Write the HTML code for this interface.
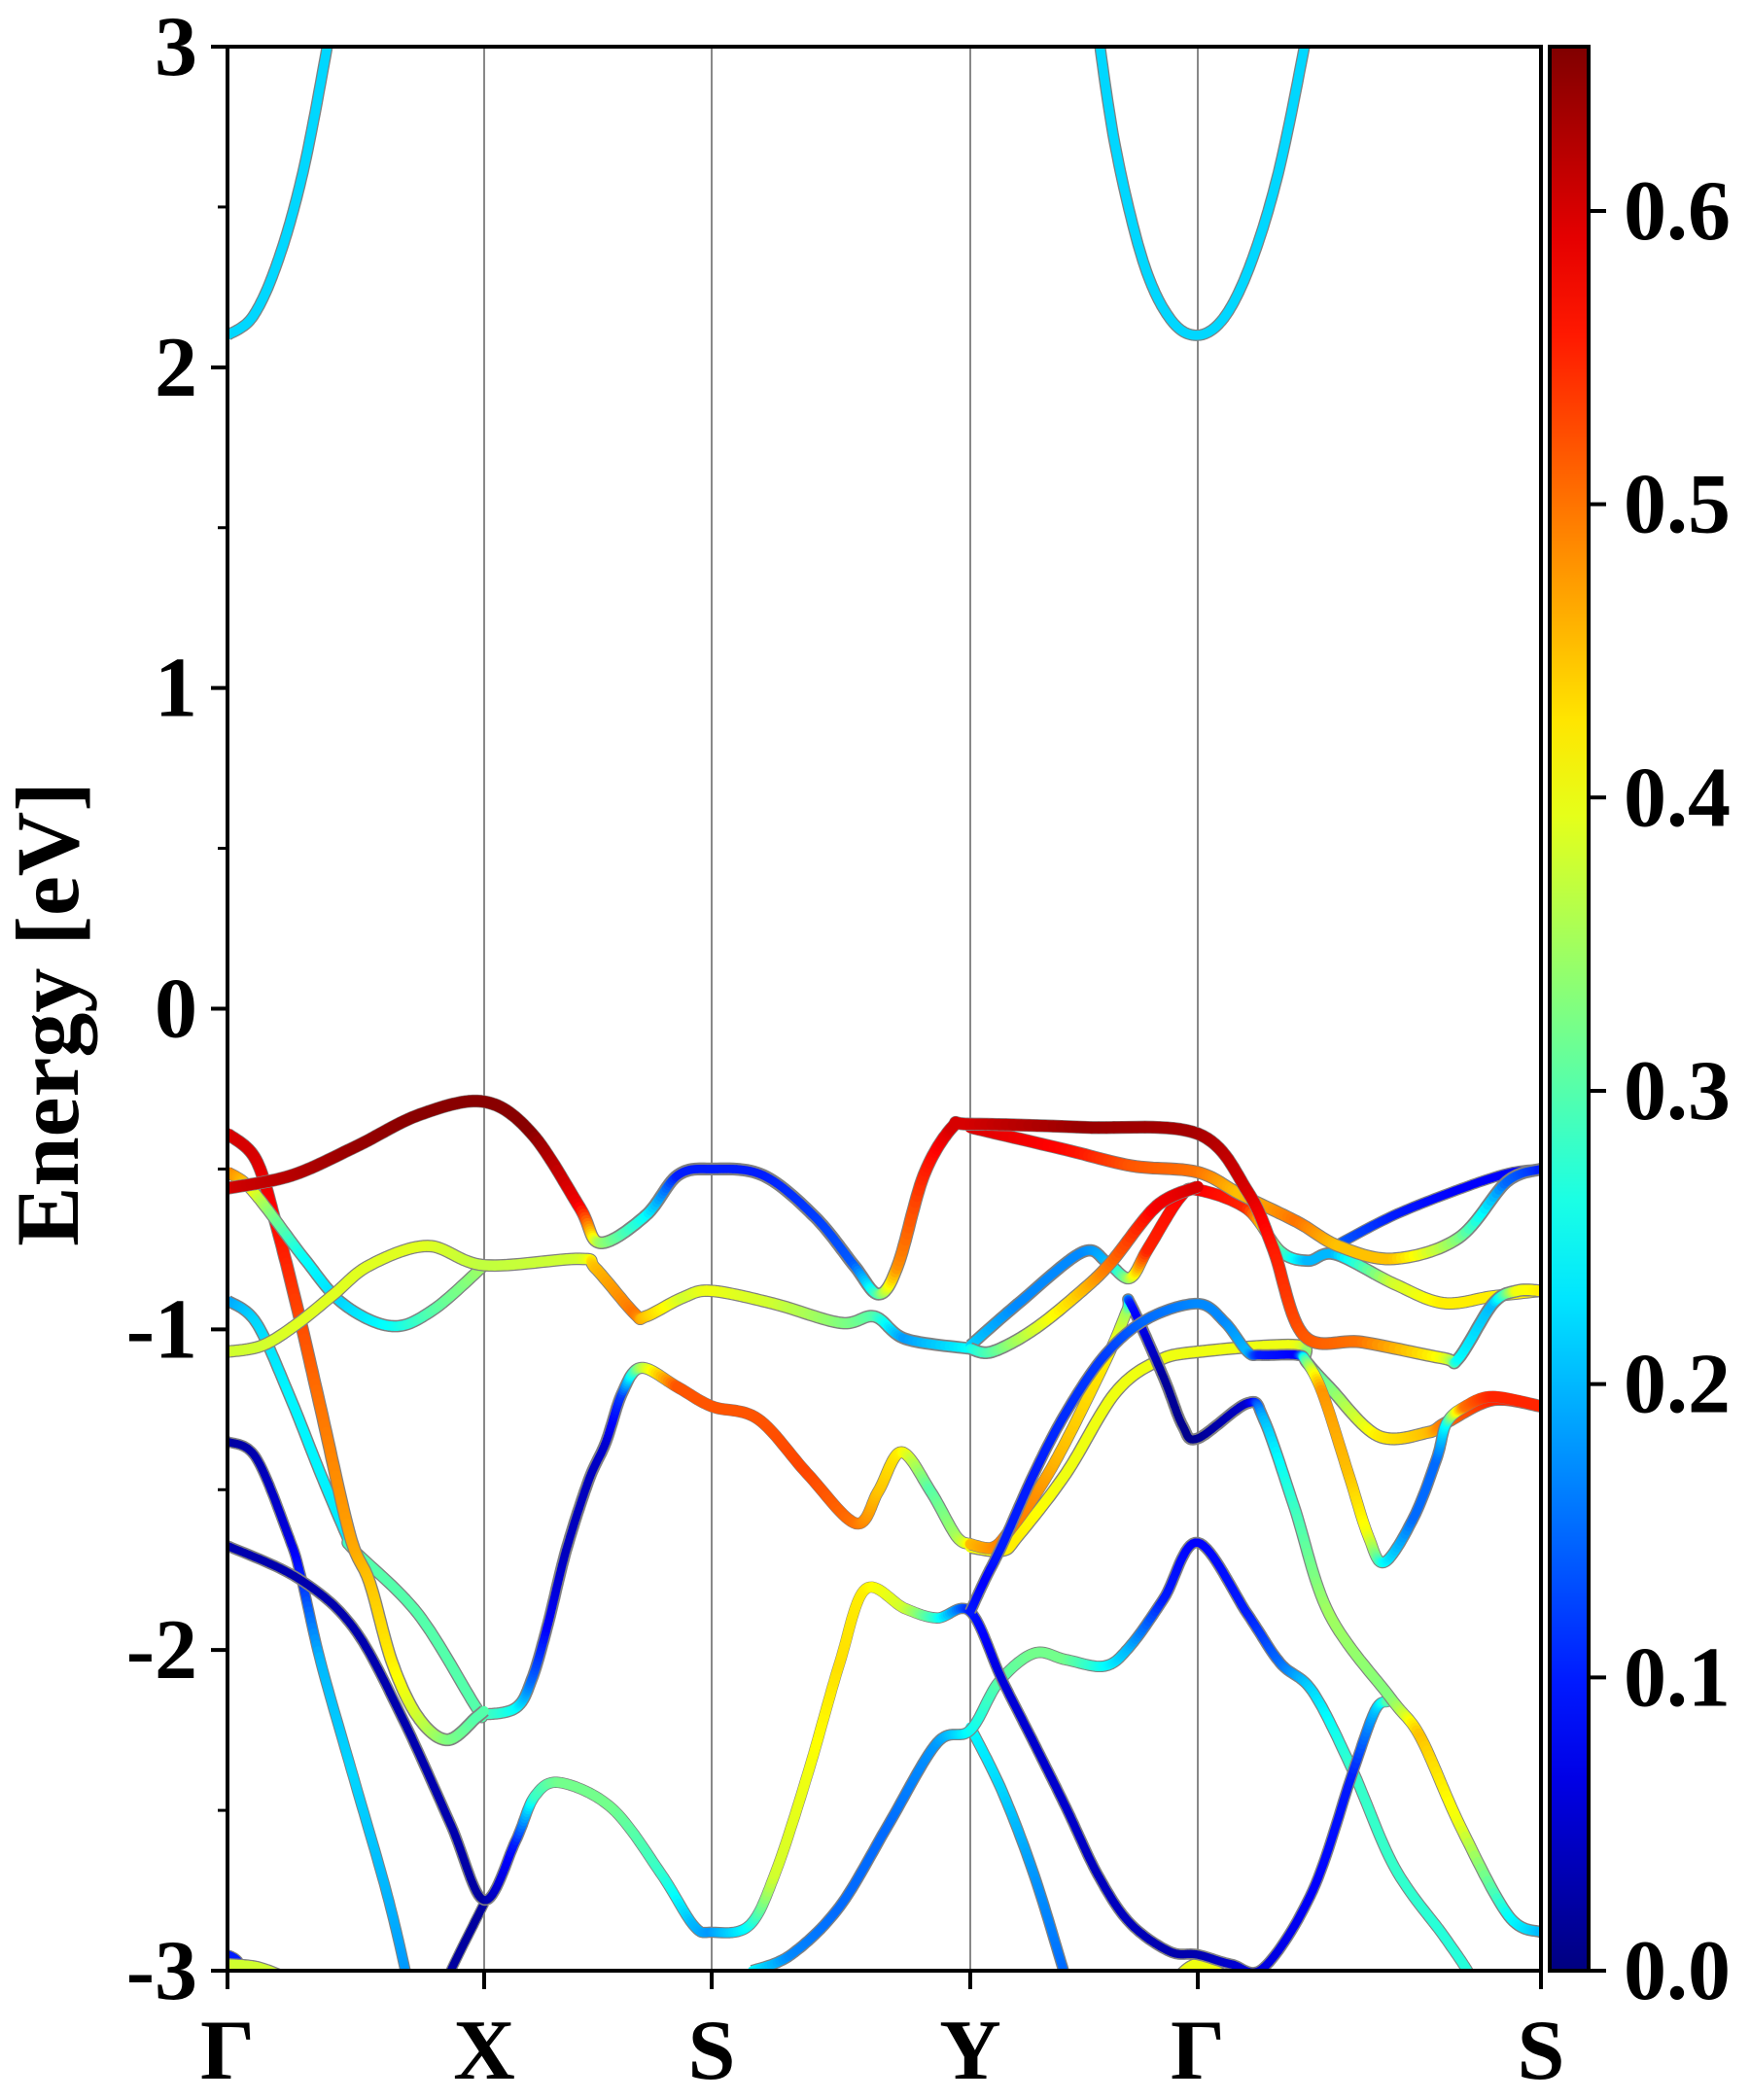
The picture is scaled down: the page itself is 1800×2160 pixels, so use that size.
<!DOCTYPE html>
<html><head><meta charset="utf-8">
<style>
html,body{margin:0;padding:0;background:#fff;}
svg{display:block;}
text{font-family:"Liberation Serif","DejaVu Serif",serif;font-weight:bold;fill:#000;}
</style></head>
<body>
<svg id="chart" width="1800" height="2160" viewBox="0 0 1800 2160" xmlns="http://www.w3.org/2000/svg">
<defs>
<clipPath id="plotclip"><rect x="234" y="48" width="1351" height="1979"/></clipPath>
<linearGradient id="jetgrad" x1="0" y1="1" x2="0" y2="0"></linearGradient>
</defs>
<g id="grid"></g>
<g id="bands" clip-path="url(#plotclip)"></g>
<rect x="234" y="48" width="1351" height="1979" fill="none" stroke="#000" stroke-width="4"/>
<g id="axes"></g>
<text x="0" y="0" font-size="92" text-anchor="middle" transform="translate(80,1043) rotate(-90)">Energy [eV]</text>
<g id="cbar"></g>
</svg>
<script>
const kLabels = ["Γ","X","S","Y","Γ","S"];
const yTicks = [-3,-2,-1,0,1,2,3];
const cbTicks = [0.0,0.1,0.2,0.3,0.4,0.5,0.6];
const cbTickLabels = ["0.0","0.1","0.2","0.3","0.4","0.5","0.6"];
const wMax = 0.656;
// bands: [k (segment index + fraction), energy eV, weight]
const bandCond1 = [[0,2.1,.22],[0.1,2.16,.22],[0.2,2.34,.22],[0.3,2.63,.22],[0.4,3.05,.22]];
const bandCond2 = [[3.56,3.05,.22],[3.64,2.68,.22],[3.76,2.33,.22],[3.88,2.15,.22],[4,2.1,.22],[4.08,2.16,.22],[4.16,2.34,.22],[4.24,2.63,.22],[4.32,3.05,.22]];
const bandTop = [[0,-0.56,.6],[0.25,-0.52,.62],[0.5,-0.43,.64],[0.75,-0.33,.65],[1,-0.29,.65],[1.21,-0.39,.65],[1.42,-0.62,.58],[1.51,-0.73,.35],[1.71,-0.645,.25],[1.85,-0.52,.1],[2,-0.50,.1],[2.2,-0.52,.1],[2.4,-0.65,.12],[2.55,-0.8,.14],[2.645,-0.89,.3],[2.72,-0.8,.48],[2.82,-0.52,.55],[2.93,-0.37,.6],[3,-0.36,.6],[3.5,-0.37,.64],[4,-0.39,.63],[4.145,-0.57,.6],[4.22,-0.75,.56],[4.31,-1.02,.52],[4.48,-1.04,.5],[4.715,-1.09,.4],[4.76,-1.09,.25],[4.86,-0.92,.2],[4.93,-0.88,.4],[5,-0.88,.42]];
const bandC2 = [[3,-0.37,.6],[3.42,-0.44,.57],[3.71,-0.49,.52],[4,-0.51,.5],[4.126,-0.58,.45],[4.29,-0.665,.5],[4.41,-0.74,.45],[4.57,-0.78,.45],[4.76,-0.715,.33],[4.9,-0.54,.15],[5,-0.50,.1]];
const bandC3 = [[3,-1.06,.25],[3.095,-1.07,.3],[3.28,-1.0,.38],[3.49,-0.88,.45],[3.62,-0.79,.5],[3.82,-0.615,.58],[4,-0.555,.6]];
const bandC4 = [[4.40,-0.74,.15],[4.57,-0.645,.1],[4.76,-0.564,.08],[4.905,-0.513,.08],[5,-0.50,.08]];
const bandC5 = [[3,-1.05,.22],[3.21,-0.92,.17],[3.49,-0.76,.17],[3.6,-0.79,.2],[3.70,-0.84,.35],[3.78,-0.75,.55],[3.92,-0.59,.57],[4,-0.565,.58],[4.145,-0.625,.55],[4.24,-0.756,.3],[4.32,-0.786,.2],[4.40,-0.766,.2],[4.57,-0.857,.38],[4.715,-0.918,.42],[4.86,-0.897,.42],[5,-0.88,.42]];
const bandC6 = [[0,-1.07,.38],[0.137,-1.05,.38],[0.276,-0.98,.39],[0.415,-0.89,.39],[0.554,-0.80,.39],[0.78,-0.74,.39],[1,-0.80,.37],[1.42,-0.78,.38],[1.49,-0.81,.45],[1.66,-0.95,.5],[1.71,-0.96,.45],[1.876,-0.90,.38],[2,-0.88,.4],[2.24,-0.92,.38],[2.5,-0.98,.33],[2.63,-0.96,.3],[2.75,-1.03,.18],[3,-1.06,.25]];
const bandC7 = [[0,-0.51,.5],[0.07,-0.545,.45],[0.15,-0.62,.35],[0.3,-0.78,.25],[0.45,-0.92,.22],[0.64,-0.99,.25],[0.8,-0.94,.3],[1,-0.80,.35]];
const bandC8 = [[0,-0.39,.6],[0.11,-0.47,.6],[0.19,-0.675,.57],[0.28,-0.96,.53],[0.364,-1.25,.5],[0.478,-1.645,.47],[0.554,-1.79,.45],[0.642,-2.04,.42],[0.743,-2.21,.38],[0.857,-2.28,.33],[0.97,-2.21,.3],[1,-2.19,.3]];
const bandC9 = [[0,-0.91,.18],[0.111,-0.978,.22],[0.238,-1.20,.24],[0.364,-1.453,.24],[0.465,-1.645,.23],[0.49,-1.686,.3],[0.743,-1.888,.3],[0.97,-2.18,.3],[1,-2.20,.3],[1.14,-2.18,.25],[1.21,-2.09,.15],[1.28,-1.92,.08],[1.36,-1.69,.04],[1.46,-1.47,.04],[1.535,-1.352,.05],[1.606,-1.20,.12],[1.69,-1.12,.35],[1.85,-1.18,.52],[2,-1.24,.52],[2.18,-1.28,.52],[2.37,-1.45,.53],[2.558,-1.605,.5],[2.645,-1.504,.45],[2.733,-1.383,.42],[2.846,-1.504,.3],[2.946,-1.645,.35],[3,-1.67,.42]];
const bandC10 = [[0,-1.675,.03],[0.276,-1.777,.03],[0.49,-1.93,.03],[0.68,-2.21,.03],[0.87,-2.545,.03],[1,-2.78,.02],[1.138,-2.596,.1],[1.224,-2.454,.28],[1.338,-2.414,.32],[1.564,-2.495,.32],[1.777,-2.697,.28],[1.92,-2.858,.2],[2,-2.88,.18],[2.144,-2.86,.25],[2.244,-2.70,.38],[2.37,-2.39,.40],[2.495,-2.04,.43],[2.595,-1.81,.42],[2.746,-1.87,.38],[2.871,-1.90,.27],[3,-1.88,.1],[3.138,-2.09,.06],[3.28,-2.29,.05],[3.42,-2.49,.05],[3.56,-2.70,.04],[3.70,-2.85,.04],[3.876,-2.94,.03],[4,-2.95,.03],[4.098,-2.98,.05],[4.193,-2.99,.06],[4.335,-2.75,.08],[4.449,-2.39,.1],[4.516,-2.19,.2],[4.554,-2.16,.3]];
const bandYellow = [[3,-1.67,.45],[3.1,-1.68,.48],[3.18,-1.62,.5],[3.3,-1.5,.48],[3.42,-1.35,.45],[3.607,-1.08,.42],[3.69,-0.94,.35],[3.706,-0.923,.1],[3.85,-1.15,.02],[3.933,-1.30,.01],[4,-1.34,.01],[4.145,-1.23,.05],[4.193,-1.282,.2],[4.28,-1.55,.28],[4.383,-1.888,.35],[4.563,-2.151,.33],[4.649,-2.272,.45],[4.763,-2.545,.4],[4.905,-2.828,.25],[5,-2.88,.2]];
const bandGreen = [[3,-1.68,.4],[3.14,-1.69,.42],[3.209,-1.645,.42],[3.42,-1.45,.4],[3.635,-1.2,.4],[3.82,-1.10,.4],[4,-1.07,.4],[4.288,-1.05,.4],[4.316,-1.10,.3],[4.383,-1.18,.32],[4.525,-1.332,.42],[4.668,-1.322,.45],[4.725,-1.29,.5],[4.86,-1.22,.55],[5,-1.24,.55]];
const bandBlueUp = [[3,-1.88,.1],[3.067,-1.777,.08],[3.138,-1.676,.1],[3.28,-1.45,.1],[3.42,-1.26,.11],[3.592,-1.08,.12],[3.777,-0.968,.15],[4,-0.92,.17],[4.079,-0.978,.17],[4.145,-1.07,.2],[4.183,-1.08,.1],[4.288,-1.08,.08],[4.316,-1.10,.3],[4.364,-1.20,.48],[4.44,-1.454,.45],[4.497,-1.645,.4],[4.544,-1.726,.25],[4.63,-1.585,.15],[4.696,-1.403,.15],[4.725,-1.292,.25],[4.78,-1.24,.5],[4.86,-1.21,.55],[5,-1.24,.55]];
const bandGreenLow = [[2.157,-3.0,.25],[2.307,-2.95,.17],[2.495,-2.80,.15],[2.683,-2.545,.15],[2.871,-2.29,.18],[3,-2.25,.25],[3.125,-2.10,.3],[3.28,-2.01,.32],[3.42,-2.03,.32],[3.59,-2.05,.25],[3.70,-1.99,.2],[3.85,-1.84,.1],[4,-1.665,.08],[4.145,-1.888,.1],[4.24,-2.04,.15],[4.335,-2.13,.22],[4.449,-2.37,.28],[4.573,-2.677,.28],[4.715,-2.889,.27],[4.78,-2.99,.27],[4.8,-3.03,.27]];
const bandCyanY = [[3,-2.24,.25],[3.14,-2.44,.22],[3.28,-2.70,.18],[3.41,-3.0,.15],[3.43,-3.05,.15]];
const bandNavyGX = [[0,-1.35,.02],[0.111,-1.40,.03],[0.24,-1.65,.06],[0.288,-1.777,.1],[0.364,-2.04,.2],[0.49,-2.394,.22],[0.617,-2.747,.2],[0.693,-3.0,.18],[0.70,-3.05,.18]];
const bandNavyX = [[0.85,-3.05,.02],[0.87,-3.0,.02],[1,-2.79,.02]];
const bandCorner1 = [[0,-2.95,.1],[0.04,-2.97,.1],[0.08,-3.03,.1]];
const bandCorner2 = [[0,-2.98,.38],[0.12,-2.99,.38],[0.25,-3.03,.38]];
const bandCorner3 = [[3.9,-3.03,.4],[4,-2.98,.4],[4.1,-3.03,.4]];

const allBands = [bandCond1,bandCond2,bandCorner1,bandCorner2,bandCorner3,bandNavyX,bandNavyGX,bandCyanY,bandGreenLow,bandC10,bandC9,bandC8,bandC7,bandC6,bandGreen,bandYellow,bandBlueUp,bandC5,bandC4,bandC3,bandC2,bandTop];

const kPix = [234, 498, 732, 998, 1232, 1585];
const yTop = 48, yBot = 2027, eMin = -3, eMax = 3;
function xOf(k){ const i = Math.max(0, Math.min(4, Math.floor(k))); return kPix[i] + (k - i) * (kPix[i+1] - kPix[i]); }
function yOf(e){ return yTop + (eMax - e) / (eMax - eMin) * (yBot - yTop); }
function jet(v){
  const t = Math.max(0, Math.min(1, v / wMax));
  const c = x => Math.round(255 * Math.max(0, Math.min(1, x)));
  return `rgb(${c(1.5-Math.abs(4*t-3))},${c(1.5-Math.abs(4*t-2))},${c(1.5-Math.abs(4*t-1))})`;
}
const NS = "http://www.w3.org/2000/svg";
function mk(tag, attrs, parent){ const el = document.createElementNS(NS, tag); for (const a in attrs) el.setAttribute(a, attrs[a]); parent.appendChild(el); return el; }

const grid = document.getElementById('grid');
for (let i = 1; i < kLabels.length - 1; i++) {
  const ln = mk('line', {x1: kPix[i], x2: kPix[i], y1: yTop, y2: yBot, stroke: '#888', 'stroke-width': 2}, grid);
  
  
}

const bandsG = document.getElementById('bands');
function sample(pts){
  const P = pts.map(p => [xOf(p[0]), yOf(p[1]), p[2]]);
  const out = [];
  for (let i = 0; i < P.length - 1; i++) {
    const p0 = P[Math.max(0, i-1)], p1 = P[i], p2 = P[i+1], p3 = P[Math.min(P.length-1, i+2)];
    const N = 16;
    for (let s = 0; s < N; s++) {
      const t = s / N, t2 = t*t, t3 = t2*t;
      const f = (a,b,c,d) => 0.5*((2*b) + (-a+c)*t + (2*a-5*b+4*c-d)*t2 + (-a+3*b-3*c+d)*t3);
      out.push([f(p0[0],p1[0],p2[0],p3[0]), f(p0[1],p1[1],p2[1],p3[1]), p1[2] + (p2[2]-p1[2])*t]);
    }
  }
  const L = P[P.length-1]; out.push([L[0], L[1], L[2]]);
  return out;
}
allBands.forEach((band, bi) => {
  const g = mk('g', {}, bandsG);
  
  
  const s = sample(band);
  const wAvg = band.reduce((a,p)=>a+p[2],0)/band.length;
  const lw = 8 + 4 * wAvg / wMax;
  mk('polyline', {points: s.map(p => p[0].toFixed(1)+','+p[1].toFixed(1)).join(' '), fill: 'none', stroke: '#808080', 'stroke-width': lw + 2.6, 'stroke-linejoin': 'round', 'stroke-linecap': 'butt'}, g);
  for (let i = 0; i < s.length - 1; i++) {
    const w = (s[i][2] + s[i+1][2]) / 2;
    mk('line', {x1: s[i][0].toFixed(1), y1: s[i][1].toFixed(1), x2: s[i+1][0].toFixed(1), y2: s[i+1][1].toFixed(1), stroke: jet(w), 'stroke-width': 8 + 4 * w / wMax, 'stroke-linecap': 'round'}, g);
  }
});

const axes = document.getElementById('axes');
yTicks.forEach(v => {
  const y = yOf(v);
  const t = mk('line', {x1: 217, x2: 234, y1: y, y2: y, stroke: '#000', 'stroke-width': 4}, axes);
  
  
  const lb = mk('text', {x: 203, y: y + 29, 'font-size': 88, 'text-anchor': 'end'}, axes);
  lb.textContent = String(v);
  
  
});
for (let i = 0; i < yTicks.length - 1; i++) {
  const y = yOf((yTicks[i] + yTicks[i+1]) / 2);
  const t = mk('line', {x1: 224, x2: 234, y1: y, y2: y, stroke: '#000', 'stroke-width': 3}, axes);
  
  
}
kLabels.forEach((lab, i) => {
  const t = mk('line', {x1: kPix[i], x2: kPix[i], y1: yBot, y2: yBot + 19, stroke: '#000', 'stroke-width': 4}, axes);
  
  
  const lb = mk('text', {x: kPix[i], y: 2138, 'font-size': 88, 'text-anchor': 'middle'}, axes);
  lb.textContent = lab;
  
  
});

const grad = document.getElementById('jetgrad');
for (let i = 0; i <= 20; i++) { mk('stop', {offset: (i/20), 'stop-color': jet(wMax * i / 20)}, grad); }
const cb = document.getElementById('cbar');
const cbx = 1594, cbw = 40;
const r = mk('rect', {x: cbx, y: yTop, width: cbw, height: yBot - yTop, fill: 'url(#jetgrad)', stroke: '#000', 'stroke-width': 4}, cb);


function cbY(v){ return yBot - v / wMax * (yBot - yTop); }
cbTicks.forEach((v, i) => {
  const y = cbY(v);
  const t = mk('line', {x1: cbx + cbw, x2: cbx + cbw + 18, y1: y, y2: y, stroke: '#000', 'stroke-width': 4}, cb);
  
  
  const lb = mk('text', {x: 1670, y: y + 29, 'font-size': 88, 'text-anchor': 'start'}, cb);
  lb.textContent = cbTickLabels[i];
  
  
});
</script>
</body></html>
